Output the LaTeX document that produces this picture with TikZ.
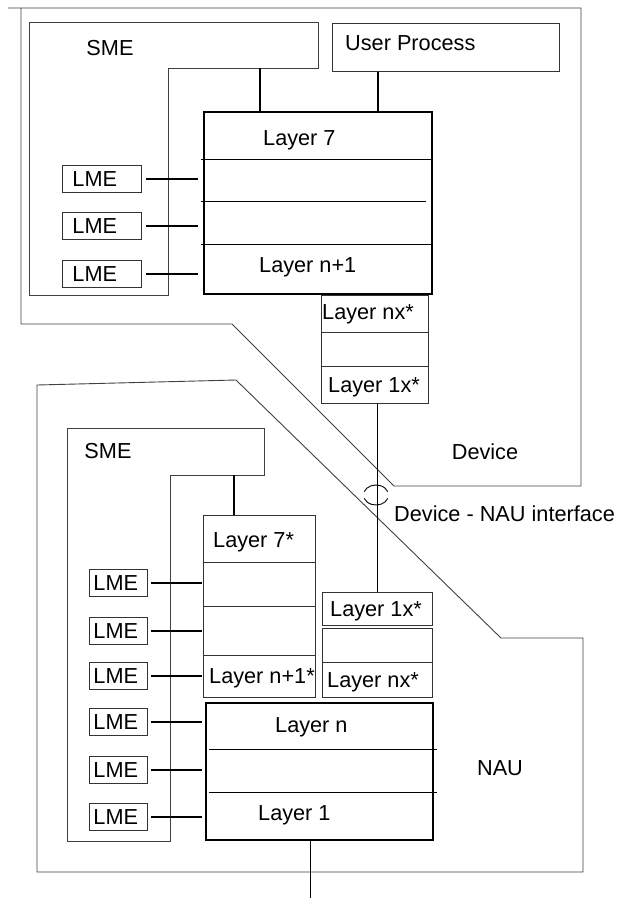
\documentclass[tikz,border=0pt]{standalone}
\usepackage{fontspec}
\setmainfont{Liberation Sans}
\tikzset{
  outline/.style={line width=0.9pt, draw=black!75},
  cell/.style={draw=black!80, line width=0.9pt, inner sep=0pt, anchor=north west},
  layerbox/.style={draw, line width=2pt, inner sep=0pt, anchor=north west},
  lme/.style={draw=black!80, line width=0.9pt, inner ysep=0pt, minimum height=27pt,
    align=left, anchor=north west, font=\fontsize{21.7}{26}\selectfont},
  conn/.style={line width=1.6pt},
  txt/.style={font=\fontsize{21.7}{26}\selectfont, inner sep=0pt, anchor=base west},
}
\begin{document}
\begin{tikzpicture}[x=1pt,y=-1pt]
  \useasboundingbox (0,0) rectangle (619,898);

  \draw[outline] (8,8) -- (581,8) -- (581,486) -- (394,486) -- (232,324) -- (21,324) -- (21,8);
  \draw[outline] (37,872) -- (37,385) -- (236,380) -- (501,638) -- (583,638) -- (583,872) -- cycle;

  \draw[outline] (29,22) -- (318,22) -- (318,68) -- (168,68) -- (168,295) -- (29,295) -- cycle;
  \coordinate (smeA) at (260,68);
  \node[txt, anchor=base] (smeAl) at (110,55) {SME};

  \draw[outline] (67,428) -- (264,428) -- (264,475) -- (170,475) -- (170,841) -- (67,841) -- cycle;
  \coordinate (smeB) at (234,475);
  \node[txt, anchor=base] (smeBl) at (108,458) {SME};

  \node[cell, minimum width=227pt, minimum height=48pt] (up) at (332,23) {};
  \node[txt] (upl) at (345,50) {User Process};
  \coordinate (upx) at (378,0);

  \node[layerbox, minimum width=228pt, minimum height=182pt] (l7box) at (203,111) {};
  \draw[line width=0.9pt] (201,159) -- (432,159);
  \draw[line width=0.9pt] (201,201) -- (426,201);
  \draw[line width=0.9pt] (201,244) -- (432,244);
  \node[txt] (l7l) at (263,145) {Layer 7};
  \node[txt] (ln1l) at (259,272) {Layer n+1};

  \draw[conn] (smeA) -- (smeA |- l7box.north);
  \draw[conn] (up.south -| upx) -- (l7box.north -| upx);

  \node[lme, inner xsep=10pt, text width=59pt] (lmeA1) at (62,165) {LME};
  \node[lme, inner xsep=10pt, text width=59pt] (lmeA2) at (62,212) {LME};
  \node[lme, inner xsep=10pt, text width=59pt] (lmeA3) at (62,260) {LME};
  \draw[conn, shorten <=4pt, shorten >=5pt] (lmeA1.east) -- (lmeA1.east -| l7box.west);
  \draw[conn, shorten <=4pt, shorten >=5pt] (lmeA2.east) -- (lmeA2.east -| l7box.west);
  \draw[conn, shorten <=4pt, shorten >=5pt] (lmeA3.east) -- (lmeA3.east -| l7box.west);

  \node[cell, minimum width=107pt, minimum height=37pt] (nxA) at (321,295) {};
  \node[cell, minimum width=107pt, minimum height=34pt] (midA) at (321,332) {};
  \node[cell, minimum width=107pt, minimum height=37pt] (x1A) at (321,366) {};
  \node[txt] (nxAl) at (322,319) {Layer nx*};
  \node[txt] (x1Al) at (328,392) {Layer 1x*};

  \node[txt, anchor=base] (devl) at (485,459) {Device};
  \node[txt] (ifl) at (394,521) {Device - NAU interface};
  \node[txt, anchor=base] (naul) at (500,775) {NAU};

  \node[cell, minimum width=110pt, minimum height=33pt] (x1B) at (322,592) {};
  \node[cell, minimum width=110pt, minimum height=34pt] (midB) at (322,628) {};
  \node[cell, minimum width=110pt, minimum height=35pt] (nxB) at (322,662) {};
  \node[txt] (x1Bl) at (330,616) {Layer 1x*};
  \node[txt] (nxBl) at (327,687) {Layer nx*};

  \draw[line width=0.9pt] (x1A.south -| x1B.north) -- (x1B.north);
  \coordinate (ifc) at (376,495);
  \draw[line width=0.9pt] (ifc) ++(200:12.5 and 10) arc[start angle=200, end angle=340, x radius=12.5, y radius=10];
  \draw[line width=0.9pt] (ifc) ++(20:12.5 and 10) arc[start angle=20, end angle=160, x radius=12.5, y radius=10];

  \node[cell, minimum width=112pt, minimum height=47pt] (s7a) at (203,515) {};
  \node[cell, minimum width=112pt, minimum height=44pt] (s7b) at (203,562) {};
  \node[cell, minimum width=112pt, minimum height=49pt] (s7c) at (203,606) {};
  \node[cell, minimum width=112pt, minimum height=42pt] (s7d) at (203,655) {};
  \node[txt] (s7al) at (213,547) {Layer 7*};
  \node[txt] (s7dl) at (209,683) {Layer n+1*};
  \draw[conn] (smeB) -- (smeB |- s7a.north);

  \node[layerbox, minimum width=227pt, minimum height=137pt] (lnbox) at (205,702) {};
  \draw[line width=0.9pt] (209,749) -- (437,749);
  \draw[line width=0.9pt] (209,792) -- (437,792);
  \node[txt] (lnl) at (275,732) {Layer n};
  \node[txt] (l1l) at (258,820) {Layer 1};
  \coordinate (nauout) at (310,898);
  \draw[line width=0.9pt] (nauout |- lnbox.south) -- (nauout);

  \node[lme, inner xsep=4pt, text width=50pt] (lmeB1) at (89,569) {LME};
  \node[lme, inner xsep=4pt, text width=50pt] (lmeB2) at (89,617) {LME};
  \node[lme, inner xsep=4pt, text width=50pt] (lmeB3) at (89,662) {LME};
  \node[lme, inner xsep=4pt, text width=50pt] (lmeB4) at (89,708) {LME};
  \node[lme, inner xsep=4pt, text width=50pt] (lmeB5) at (89,756) {LME};
  \node[lme, inner xsep=4pt, text width=50pt] (lmeB6) at (89,803) {LME};
  \draw[conn, shorten <=3pt, shorten >=1pt] (lmeB1.east) -- (lmeB1.east -| s7b.west);
  \draw[conn, shorten <=3pt, shorten >=1pt] (lmeB2.east) -- (lmeB2.east -| s7c.west);
  \draw[conn, shorten <=3pt, shorten >=1pt] (lmeB3.east) -- (lmeB3.east -| s7d.west);
  \draw[conn, shorten <=3pt, shorten >=3pt] (lmeB4.east) -- (lmeB4.east -| lnbox.west);
  \draw[conn, shorten <=3pt, shorten >=3pt] (lmeB5.east) -- (lmeB5.east -| lnbox.west);
  \draw[conn, shorten <=3pt, shorten >=3pt] (lmeB6.east) -- (lmeB6.east -| lnbox.west);
\end{tikzpicture}
\end{document}
